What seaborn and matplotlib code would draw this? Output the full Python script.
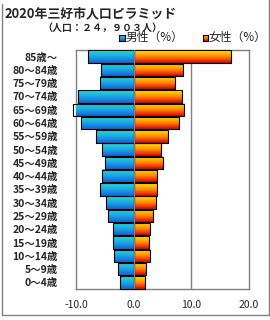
import numpy as np
import pandas as pd
import matplotlib
matplotlib.use("Agg")
import matplotlib.pyplot as plt
from matplotlib.colors import LinearSegmentedColormap
from matplotlib.lines import Line2D
import seaborn as sns

categories = ["85歳～", "80～84歳", "75～79歳", "70～74歳", "65～69歳", "60～64歳",
              "55～59歳", "50～54歳", "45～49歳", "40～44歳", "35～39歳", "30～34歳",
              "25～29歳", "20～24歳", "15～19歳", "10～14歳", "5～9歳", "0～4歳"]
male = [7.9, 5.7, 5.9, 9.7, 10.6, 9.1, 6.5, 5.5, 5.0, 5.5, 5.9, 4.8, 4.5, 3.6, 3.6, 3.4, 2.8, 2.4]
female = [16.8, 8.5, 7.1, 8.3, 8.8, 7.8, 6.0, 4.8, 5.0, 4.0, 4.1, 3.8, 3.3, 2.9, 2.6, 2.8, 2.2, 1.9]
xticks = [-10, 0, 10, 20]
xticklabels = ["-10.0", "0.0", "10.0", "20.0"]

sns.set_style("white")
plt.rcParams['font.family'] = ['Noto Sans CJK JP', 'DejaVu Sans']

df = pd.DataFrame({"age": categories, "male": [-v for v in male], "female": female})

fig = plt.figure(figsize=(2.7, 3.2), dpi=100)
ax = fig.add_axes([76/270, 1-289/320, (249-76)/270, (289-50)/320])

sns.barplot(data=df, y="age", x="male", orient="h", ax=ax, width=0.94,
            color="#1aa8e0", edgecolor="black", linewidth=0.8)
n_male = len(ax.patches)
sns.barplot(data=df, y="age", x="female", orient="h", ax=ax, width=0.94,
            color="#ff8c00", edgecolor="black", linewidth=0.8)

male_cmap = LinearSegmentedColormap.from_list("m", ["#30d8d0", "#1aa8e0", "#0f62e0"])
female_cmap = LinearSegmentedColormap.from_list("f", ["#ffe800", "#ff8a00", "#e00000"])
grad = np.linspace(0, 1, 64).reshape(-1, 1)

ax.set_xlim(-10, 20)
ylim = ax.get_ylim()
for i, p in enumerate(ax.patches):
    cmap = male_cmap if i < n_male else female_cmap
    x0, y0 = p.get_x(), p.get_y()
    w, h = p.get_width(), p.get_height()
    im = ax.imshow(grad, cmap=cmap, aspect="auto", origin="upper",
                   extent=(x0, x0 + w, y0 + h, y0), zorder=p.get_zorder() + 0.1)
    im.set_clip_path(p)
    im.set_clip_box(None)
    p.set_clip_on(False)
    p.set_facecolor("none")
    p.set_zorder(p.get_zorder() + 0.2)
ax.set_ylim(ylim)
ax.set_xlim(-10, 20)

ax.axvline(10, color="#808080", lw=1, zorder=0)
ax.axvline(0, color="#808080", lw=1, zorder=5)
for s in ax.spines.values():
    s.set_color("#808080")
    s.set_linewidth(1)
    s.set_zorder(0.5)

ax.set_xticks(xticks)
ax.set_xticklabels(xticklabels, fontsize=7.5)
ax.tick_params(axis="x", length=0, pad=8)
ax.tick_params(axis="y", length=0, pad=13, labelsize=7.5)
for t in ax.get_yticklabels():
    t.set_fontweight("bold")
ax.set_xlabel("")
ax.set_ylabel("")

fig.text(5/270, 1-13/320, "2020年三好市人口ピラミッド", fontsize=9.3, fontweight="bold",
         va="center", ha="left")
fig.text(42/270, 1-27.5/320, "（人口：２４，９０３人）", fontsize=7.2, fontweight="bold",
         va="center", ha="left")

# legend
def legend_box(x_px, cmap):
    lax = fig.add_axes([x_px/270, 1-41/320, 5.5/270, 6.5/320])
    lax.imshow(grad, cmap=cmap, aspect="auto")
    lax.set_xticks([]); lax.set_yticks([])
    for s in lax.spines.values():
        s.set_color("black"); s.set_linewidth(0.8)

legend_box(119, male_cmap)
fig.text(125.5/270, 1-37.5/320, "男性（%）", fontsize=8.5, va="center", ha="left")
legend_box(202.5, female_cmap)
fig.text(208.5/270, 1-37.5/320, "女性（%）", fontsize=8.5, va="center", ha="left")

for xs, ys in [((1.5, 1.5), (4, 315)), ((268.5, 268.5), (-5, 315)), ((1.5, 268.5), (315, 315))]:
    fig.lines.append(Line2D([x/270 for x in xs], [1 - y/320 for y in ys],
                            transform=fig.transFigure, color="#808080", lw=1))

fig.savefig("out.png", dpi=100)
